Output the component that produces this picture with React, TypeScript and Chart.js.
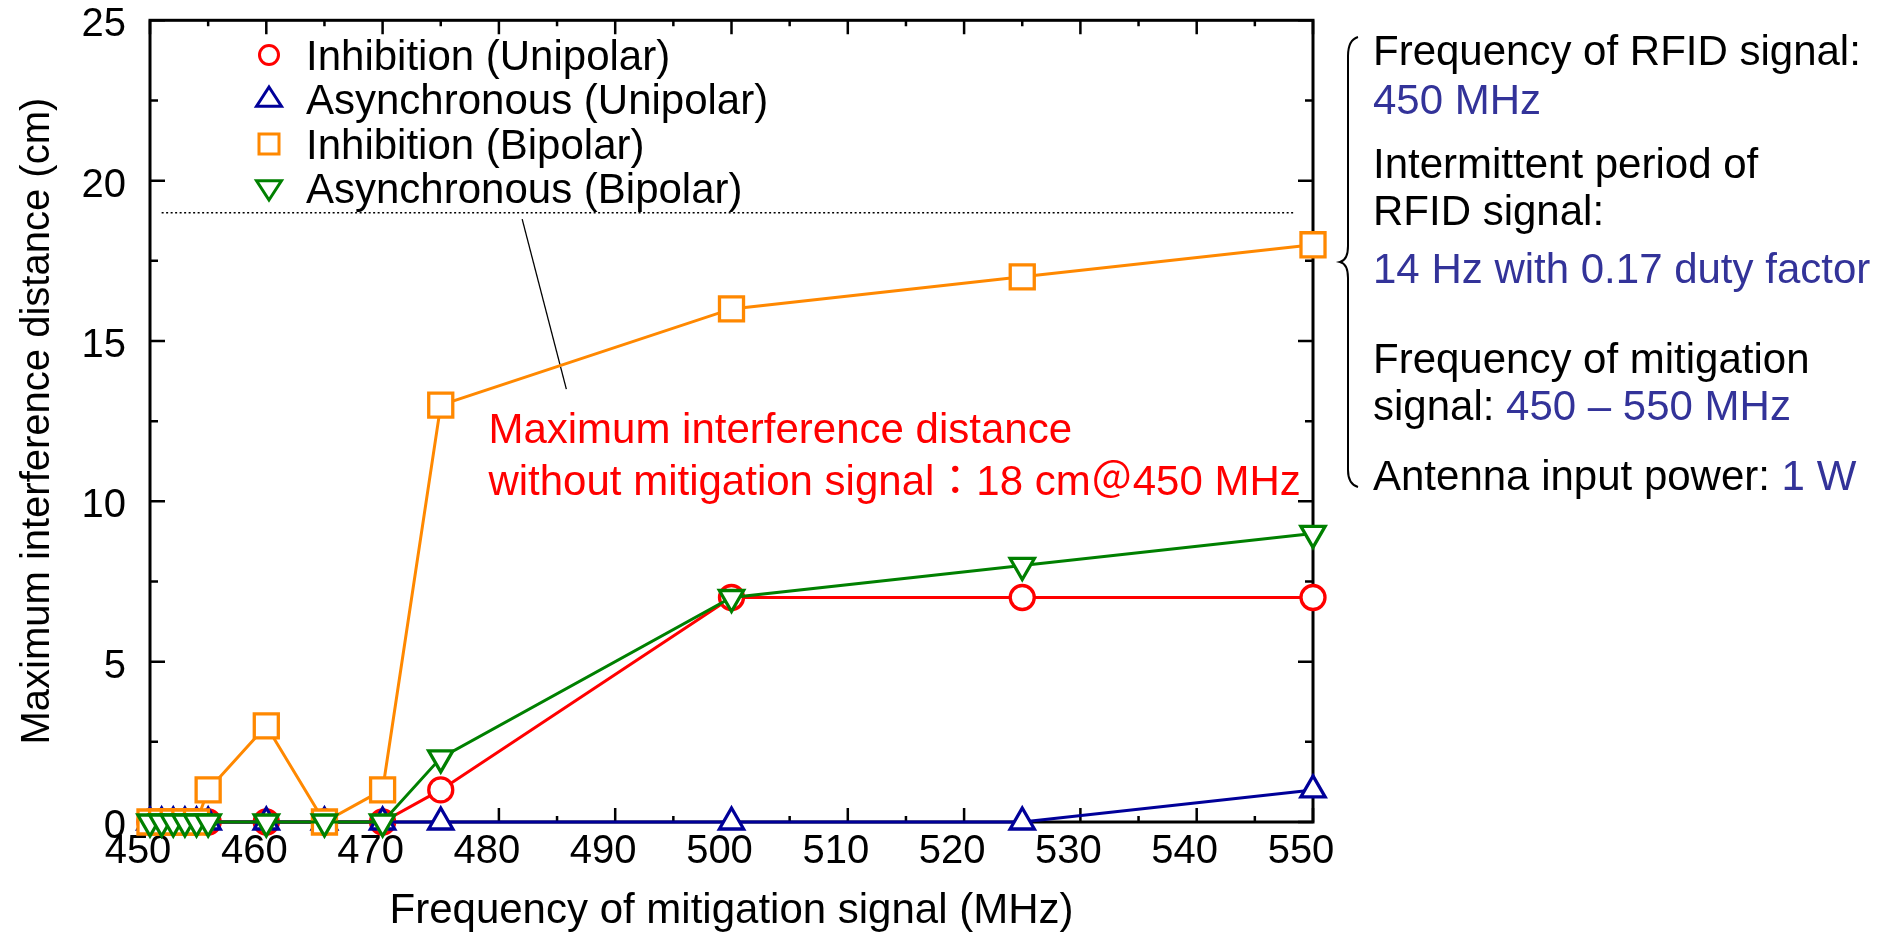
import React, { useEffect, useRef } from 'react';
import { Chart, registerables } from 'chart.js';

Chart.register(...registerables);

// ---- data ----
const freqs = [450, 451, 452, 453, 454, 455, 460, 465, 470, 475, 500, 525, 550];
const inhibitionUnipolar = [0, 0, 0, 0, 0, 0, 0, 0, 0, 1, 7, 7, 7];
const asyncUnipolar = [0, 0, 0, 0, 0, 0, 0, 0, 0, 0, 0, 0, 1];
const inhibitionBipolar = [0, 0, 0, 0, 0, 1, 3, 0, 1, 13, 16, 17, 18];
const asyncBipolar = [0, 0, 0, 0, 0, 0, 0, 0, 0, 2, 7, 8, 9];
const seriesLabels = ['Inhibition (Unipolar)', 'Asynchronous (Unipolar)', 'Inhibition (Bipolar)', 'Asynchronous (Bipolar)'];
const seriesValues = [inhibitionUnipolar, asyncUnipolar, inhibitionBipolar, asyncBipolar];
const seriesColors = ['#ff0000', '#000099', '#ff8800', '#008000'];
const seriesStyles = ['circle', 'triangle', 'rect', 'triangle'];
const seriesRotation = [0, 0, 0, 180];
const seriesRadius = [12, 14, 17, 14];
const seriesOrder = [3, 2, 1, 0];

const xTitle = 'Frequency of mitigation signal (MHz)';
const yTitle = 'Maximum interference distance (cm)';

// reference line (without mitigation) and leader line, in data units
const refLevel = 19;
const refStart = 451;
const refEnd = 548.5;
const leaderFrom = { x: 482, y: 18.8 };
const leaderTo = { x: 485.8, y: 13.5 };
const noteLines = ['Maximum interference distance', 'without mitigation signal：18 cm＠450 MHz'];
const noteAnchor = { x: 479.1, y: 11.82 };

const BLUE_TXT = '#333399';
const sideLines: [string, string][][] = [
  [['Frequency of RFID signal:', '#000']],
  [['450 MHz', BLUE_TXT]],
  [['Intermittent period of', '#000']],
  [['RFID signal:', '#000']],
  [['14 Hz with 0.17 duty factor', BLUE_TXT]],
  [['Frequency of mitigation', '#000']],
  [['signal: ', '#000'], ['450 – 550 MHz', BLUE_TXT]],
  [['Antenna input power: ', '#000'], ['1 W', BLUE_TXT]],
];
const sideBaselines = [65, 114, 178, 225, 283, 373, 420, 490];

const FONT = "'Liberation Sans', Arial, 'Noto Sans CJK JP', sans-serif";

function drawMarker(ctx: CanvasRenderingContext2D, style: string, rot: number, x: number, y: number, r: number) {
  ctx.beginPath();
  if (style === 'circle') {
    ctx.arc(x, y, r, 0, Math.PI * 2);
  } else if (style === 'rect') {
    ctx.rect(x - r, y - r, 2 * r, 2 * r);
  } else {
    const s = rot ? -1 : 1;
    ctx.moveTo(x, y - s * r);
    ctx.lineTo(x + r * 0.866 * 1.2, y + s * r * 0.6);
    ctx.lineTo(x - r * 0.866 * 1.2, y + s * r * 0.6);
    ctx.closePath();
  }
  ctx.fillStyle = '#fff';
  ctx.fill();
  ctx.stroke();
}

const framePlugin = {
  id: 'frame',
  beforeDatasetsDraw(chart: any) {
    const { ctx, chartArea: a, scales } = chart;
    const xs = scales.x;
    const ys = scales.y;
    ctx.save();
    // dotted reference line
    ctx.strokeStyle = '#000';
    ctx.lineWidth = 1.5;
    ctx.setLineDash([2, 2.5]);
    ctx.beginPath();
    ctx.moveTo(xs.getPixelForValue(refStart), ys.getPixelForValue(refLevel));
    ctx.lineTo(xs.getPixelForValue(refEnd), ys.getPixelForValue(refLevel));
    ctx.stroke();
    ctx.setLineDash([]);
    // leader line
    ctx.lineWidth = 1.3;
    ctx.beginPath();
    ctx.moveTo(xs.getPixelForValue(leaderFrom.x), ys.getPixelForValue(leaderFrom.y));
    ctx.lineTo(xs.getPixelForValue(leaderTo.x), ys.getPixelForValue(leaderTo.y));
    ctx.stroke();
    // frame
    ctx.lineWidth = 3;
    ctx.strokeRect(a.left, a.top, a.right - a.left, a.bottom - a.top);
    // inward ticks
    ctx.lineWidth = 2.5;
    ctx.beginPath();
    const xt = xs.ticks.map((t: any) => t.value);
    const xStep = xt.length > 1 ? xt[1] - xt[0] : 10;
    xt.forEach((v: number, i: number) => {
      const vals: [number, number][] = [[v, 14]];
      if (i < xt.length - 1) vals.push([v + xStep / 2, 6]);
      vals.forEach(([val, len]) => {
        const px = xs.getPixelForValue(val);
        ctx.moveTo(px, a.bottom);
        ctx.lineTo(px, a.bottom - len);
        ctx.moveTo(px, a.top);
        ctx.lineTo(px, a.top + len);
      });
    });
    const yt = ys.ticks.map((t: any) => t.value);
    const yStep = yt.length > 1 ? yt[1] - yt[0] : 5;
    yt.forEach((v: number, i: number) => {
      const vals: [number, number][] = [[v, 15]];
      if (i < yt.length - 1) vals.push([v + yStep / 2, 8]);
      vals.forEach(([val, len]) => {
        const py = ys.getPixelForValue(val);
        ctx.moveTo(a.left, py);
        ctx.lineTo(a.left + len, py);
        ctx.moveTo(a.right, py);
        ctx.lineTo(a.right - len, py);
      });
    });
    ctx.stroke();
    ctx.restore();
  },
  afterDatasetsDraw(chart: any) {
    const { ctx, scales } = chart;
    const xs = scales.x;
    const ys = scales.y;
    ctx.save();
    // legend
    ctx.font = `42px ${FONT}`;
    ctx.textBaseline = 'alphabetic';
    ctx.textAlign = 'left';
    const legendRows = [55, 99, 144, 188];
    const legendR = [9.5, 12, 10, 12];
    seriesLabels.forEach((lab, i) => {
      ctx.strokeStyle = seriesColors[i];
      ctx.lineWidth = 3;
      drawMarker(ctx, seriesStyles[i], seriesRotation[i], 269, legendRows[i], legendR[i]);
      ctx.fillStyle = '#000';
      ctx.fillText(lab, 306, legendRows[i] + 15);
    });
    // annotation
    ctx.fillStyle = '#ff0000';
    const nx = xs.getPixelForValue(noteAnchor.x);
    const ny = ys.getPixelForValue(noteAnchor.y);
    noteLines.forEach((t, i) => ctx.fillText(t, nx, ny + i * 52));
    // side panel
    sideLines.forEach((segs, i) => {
      let x = 1373;
      segs.forEach(([t, c]) => {
        ctx.fillStyle = c;
        ctx.fillText(t, x, sideBaselines[i]);
        x += ctx.measureText(t).width;
      });
    });
    // brace
    ctx.strokeStyle = '#000';
    ctx.lineWidth = 2;
    ctx.beginPath();
    ctx.moveTo(1358, 37);
    ctx.quadraticCurveTo(1348, 40, 1348, 56);
    ctx.lineTo(1348, 246);
    ctx.quadraticCurveTo(1348, 260, 1340, 262);
    ctx.quadraticCurveTo(1348, 264, 1348, 278);
    ctx.lineTo(1348, 470);
    ctx.quadraticCurveTo(1348, 484, 1358, 487);
    ctx.stroke();
    ctx.restore();
  },
};

export default function App() {
  const ref = useRef<HTMLCanvasElement | null>(null);
  useEffect(() => {
    if (!ref.current) return;
    Chart.defaults.font.family = FONT;
    Chart.defaults.color = '#000';
    const datasets = seriesLabels.map((label, i) => ({
      label,
      data: freqs.map((x, j) => ({ x, y: seriesValues[i][j] })),
      borderColor: seriesColors[i],
      backgroundColor: '#fff',
      borderWidth: 3,
      pointStyle: seriesStyles[i],
      pointRotation: seriesRotation[i],
      pointRadius: seriesRadius[i],
      pointBorderWidth: 3.3,
      pointBackgroundColor: '#fff',
      pointBorderColor: seriesColors[i],
      order: seriesOrder[i],
      clip: false,
      tension: 0,
    }));
    const chart = new Chart(ref.current, {
      type: 'line',
      data: { datasets } as any,
      options: {
        animation: false,
        responsive: false,
        maintainAspectRatio: false,
        devicePixelRatio: 1,
        layout: { padding: { left: 0, top: 14, right: 570, bottom: 0 } },
        plugins: { legend: { display: false }, tooltip: { enabled: false } },
        scales: {
          x: {
            type: 'linear',
            min: 450,
            max: 550,
            grid: { display: false, drawTicks: false },
            border: { display: false },
            ticks: { stepSize: 10, font: { size: 40 }, padding: 6, labelOffset: -12, maxRotation: 0, autoSkip: false, color: '#000' },
            title: { display: true, text: xTitle, font: { size: 42 }, color: '#000', padding: { top: 0, bottom: 0 } },
            afterFit: (s: any) => { s.height = 115; s.paddingLeft = 0; s.paddingRight = 0; },
          },
          y: {
            type: 'linear',
            min: 0,
            max: 25,
            grid: { display: false, drawTicks: false },
            border: { display: false },
            ticks: { stepSize: 5, font: { size: 40 }, padding: 24, labelOffset: 5, color: '#000' },
            title: { display: true, text: yTitle, font: { size: 40 }, color: '#000', padding: { top: 14, bottom: 0 } },
            afterFit: (s: any) => { s.width = 150; s.paddingTop = 0; s.paddingBottom = 0; },
          },
        },
      } as any,
      plugins: [framePlugin],
    });
    return () => chart.destroy();
  }, []);
  return (
    <div style={{ position: 'fixed', left: 0, top: 0, width: 1883, height: 937, background: '#fff' }}>
      <canvas ref={ref} width={1883} height={937} style={{ width: 1883, height: 937, display: 'block' }} />
    </div>
  );
}
